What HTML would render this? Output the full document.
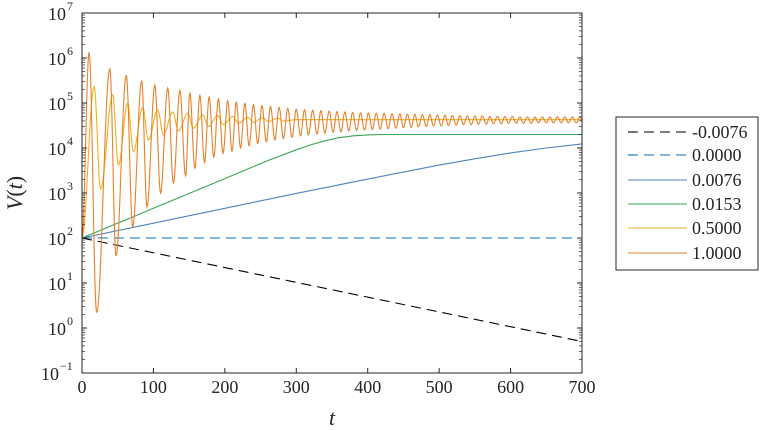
<!DOCTYPE html>
<html><head><meta charset="utf-8"><style>
html,body{margin:0;padding:0;background:#fff;}
svg{display:block;font-family:"Liberation Serif","DejaVu Serif",serif;}
</style></head><body>
<svg id="chart" width="760" height="430" viewBox="0 0 760 430"></svg>
<script>
const xTicks=[0,100,200,300,400,500,600,700];
const yExps=[-1,0,1,2,3,4,5,6,7];
const legendLabels=["-0.0076","0.0000","0.0076","0.0153","0.5000","1.0000"];
const colors=["#000000","#0072BD","#4f81bd","#3aa655","#EDB120","#E8812A"];
// log10 V values
const blackT=[0,700], blackV=[2,-0.3];
const zeroT=[0,700], zeroV=[2,2];
const blueT=[0,100,200,300,400,500,550,600,650,700];
const blueV=[2,2.33,2.66,2.99,3.31,3.62,3.76,3.89,4.0,4.09];
const greenT=[0,100,200,260,300,320,340,360,380,400,420,700];
const greenV=[2,2.66,3.32,3.72,3.96,4.07,4.16,4.23,4.27,4.29,4.30,4.30];
const yellowT=[0,17,26,43,51,64,72,85,93,106,114,127,135,148,156,169,177,190,198,211,219,232,240,253,261,274,282,300,700];
const yellowV=[2,5.36,3.09,5.18,3.62,5.0,3.92,4.9,4.18,4.85,4.29,4.8,4.38,4.77,4.44,4.74,4.48,4.72,4.52,4.7,4.55,4.68,4.57,4.67,4.59,4.66,4.6,4.63,4.63];
const orangeT=[0,10,20.5,39,47.6,62,71,83.5,91,102,110,120,128,137,145,151,158,165,171.5,178,184.5,191,197.5,204,210,216,222,228,234,240,246,252,258,264,270,276,282,288,294,300,306,311.5,317,323,329,334.5,340,346,351.5,357,362.5,368,373.5,379,384.5,390,395.5,401,406.5,412,417.5,423,428.5,434,439.5,445,450,455.5,461,466,471,476.5,482,487,492,497.5,503,508,513,518.5,524,529,534,539.5,545,550,555,560.5,566,571,576,581.5,587,592,597,602.5,608,613,618,623.5,629,634,639,644.5,650,655,660,665.5,671,676,681,686.5,692,697,700];
const orangeV=[2,6.13,0.34,5.77,1.6,5.62,2.24,5.5,2.69,5.4,3.0,5.33,3.22,5.28,3.38,5.22,3.55,5.17,3.68,5.13,3.8,5.09,3.88,5.05,3.93,5.02,4.0,4.99,4.05,4.96,4.1,4.94,4.14,4.92,4.18,4.9,4.21,4.88,4.24,4.86,4.27,4.85,4.29,4.84,4.31,4.83,4.33,4.82,4.35,4.81,4.36,4.8,4.38,4.79,4.39,4.78,4.4,4.78,4.41,4.77,4.42,4.77,4.43,4.76,4.44,4.76,4.45,4.75,4.46,4.75,4.47,4.74,4.48,4.74,4.49,4.73,4.49,4.73,4.5,4.72,4.51,4.72,4.52,4.71,4.52,4.71,4.53,4.71,4.53,4.7,4.54,4.7,4.54,4.7,4.55,4.7,4.55,4.69,4.55,4.69,4.55,4.69,4.56,4.69,4.56,4.69,4.56,4.69,4.56,4.69,4.56,4.69,4.56,4.69,4.6];

const L=82,R=582,T=13,B=373;
const NS="http://www.w3.org/2000/svg";
const svg=document.getElementById('chart');
function xs(t){return L+(t-0)/700*(R-L);}
function ys(lv){return B-(lv+1)/8*(B-T);}
function mk(tag,attrs,parent){const e=document.createElementNS(NS,tag);for(const k in attrs)e.setAttribute(k,attrs[k]);(parent||svg).appendChild(e);return e;}

const plotG=mk('g',{});


mk('rect',{x:L,y:T,width:R-L,height:B-T,fill:'#fff'},plotG);
const clip=mk('clipPath',{id:'pc'});mk('rect',{x:L,y:T,width:R-L,height:B-T},clip);

function linPath(ts,vs){let d='';for(let i=0;i<ts.length;i++)d+=(i?'L':'M')+xs(ts[i]).toFixed(2)+' '+ys(vs[i]).toFixed(2);return d;}
function cosPath(ts,vs){let d='M'+xs(ts[0]).toFixed(2)+' '+ys(vs[0]).toFixed(2);
 for(let i=0;i<ts.length-1;i++){const n=12;for(let k=1;k<=n;k++){const f=k/n;const w=(1-Math.cos(Math.PI*f))/2;const t=ts[i]+(ts[i+1]-ts[i])*f;const v=vs[i]+(vs[i+1]-vs[i])*w;d+='L'+xs(t).toFixed(2)+' '+ys(v).toFixed(2);}}return d;}

const series=[
 {name:'series-neg-0076',d:linPath(blackT,blackV),c:colors[0],dash:'10 6'},
 {name:'series-0000',d:linPath(zeroT,zeroV),c:colors[1],dash:'10 6'},
 {name:'series-0076',d:linPath(blueT,blueV),c:colors[2]},
 {name:'series-0153',d:linPath(greenT,greenV),c:colors[3]},
 {name:'series-5000',d:cosPath(yellowT,yellowV),c:colors[4]},
 {name:'series-10000',d:cosPath(orangeT,orangeV),c:colors[5]}
];
const lg=mk('g',{'clip-path':'url(#pc)'});
series.forEach(s=>{const p=mk('path',{d:s.d,fill:'none',stroke:s.c,'stroke-width':1.1},lg);if(s.dash)p.setAttribute('stroke-dasharray',s.dash);

});

const box=mk('rect',{x:L,y:T,width:R-L,height:B-T,fill:'none',stroke:'#262626','stroke-width':1});


xTicks.forEach(t=>{const x=xs(t);mk('line',{x1:x,y1:B,x2:x,y2:B-5,stroke:'#262626'});mk('line',{x1:x,y1:T,x2:x,y2:T+5,stroke:'#262626'});
 const tx=mk('text',{x:x,y:393,'text-anchor':'middle','font-size':18,fill:'#262626'});tx.textContent=t;
 
 });
yExps.forEach(e=>{const y=ys(e);mk('line',{x1:L,y1:y,x2:L+5,y2:y,stroke:'#262626'});mk('line',{x1:R,y1:y,x2:R-5,y2:y,stroke:'#262626'});
 if(e<7){for(let m=2;m<10;m++){const yy=ys(e+Math.log10(m));mk('line',{x1:L,y1:yy,x2:L+3,y2:yy,stroke:'#262626','stroke-width':0.7});mk('line',{x1:R,y1:yy,x2:R-3,y2:yy,stroke:'#262626','stroke-width':0.7});}}
 const tx=mk('text',{x:e<0?59:66,y:y+7,'text-anchor':'end','font-size':18,fill:'#262626'});tx.textContent='10';
 
 
 const sp=mk('text',{x:e<0?60:67,y:y-3,'font-size':12,fill:'#262626'});sp.textContent=e<0?'\u2212'+(-e):String(e);});
const xt=mk('text',{x:332,y:425,'text-anchor':'middle','font-size':22,'font-style':'italic',fill:'#262626'});xt.textContent='t';


const yt=mk('text',{x:0,y:0,'text-anchor':'middle','font-size':22,fill:'#262626',transform:'translate(22,193) rotate(-90)'});
yt.innerHTML='<tspan font-style="italic">V</tspan>(<tspan font-style="italic">t</tspan>)';


const lgG=mk('g',{});


mk('rect',{x:616,y:117,width:142,height:153,fill:'#fff',stroke:'#262626','stroke-width':1},lgG);
const ly=[132,155,180,204,228,253];
legendLabels.forEach((lab,i)=>{const g=mk('g',{},lgG);
 
 
 const ln=mk('line',{x1:628,y1:ly[i],x2:687,y2:ly[i],stroke:colors[i],'stroke-width':1.1},g);
 if(i<2)ln.setAttribute('stroke-dasharray','10 6');
 const tx=mk('text',{x:692,y:ly[i]+6,'font-size':18,fill:'#262626'},g);tx.textContent=lab;});
</script>
</body></html>
